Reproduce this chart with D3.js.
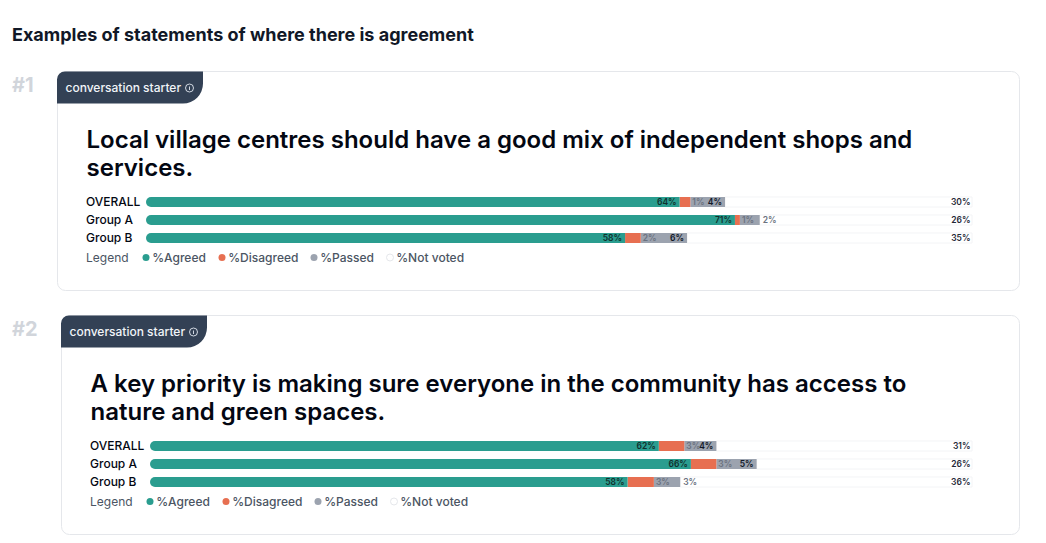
<!DOCTYPE html>
<html>

<head>
    <meta charset="UTF-8">
    <script src="https://cdnjs.cloudflare.com/ajax/libs/d3/7.8.5/d3.min.js"></script>
    <style>
        html, body { margin: 0; padding: 0; background: #fff; overflow: hidden; }
        text { font-family: Inter, "Noto Sans", sans-serif; }
    </style>
</head>

<body>
</body>
<script>
    var pageTitle = "Examples of statements of where there is agreement";
    var badgeText = "conversation starter";
    var groups = ["OVERALL", "Group A", "Group B"];
    var legendItems = ["%Agreed", "%Disagreed", "%Passed", "%Not voted"];
    var keys = ["agreed", "disagreed", "passed", "notVoted"];

    var statement1 = ["Local village centres should have a good mix of independent shops and", "services."];
    var agreed1 = [64.6, 71.3, 58.0];
    var disagreed1 = [1.3, 0.6, 1.9];
    var passed1 = [4.2, 2.4, 5.6];
    var notVoted1 = [29.9, 25.7, 34.5];
    var labels1 = [["64%", "1%", "4%", "30%"], ["71%", "1%", "2%", "26%"], ["58%", "2%", "6%", "35%"]];

    var statement2 = ["A key priority is making sure everyone in the community has access to", "nature and green spaces."];
    var agreed2 = [61.9, 65.8, 58.1];
    var disagreed2 = [3.1, 3.1, 3.2];
    var passed2 = [3.9, 4.9, 3.2];
    var notVoted2 = [31.1, 26.2, 35.5];
    var labels2 = [["62%", "3%", "4%", "31%"], ["66%", "3%", "5%", "26%"], ["58%", "3%", "3%", "36%"]];

    var color = d3.scaleOrdinal().domain(keys).range(["#2a9d8f", "#e76f51", "#9ca3af", "#ffffff"]);

    var svg = d3.select("body").append("svg")
        .attr("width", 1046)
        .attr("height", 543)
        .style("display", "block");

    svg.append("text")
        .attr("x", 12).attr("y", 40.5)
        .attr("font-size", 18).attr("font-weight", 700).attr("fill", "#111827")
        .text(pageTitle);

    function drawCard(num, left, top, lines, agreed, disagreed, passed, notVoted, labels) {
        var cardW = 1019.5 - left, cardH = 219;
        var rows = groups.map(function (g, i) {
            return { group: g, agreed: agreed[i], disagreed: disagreed[i], passed: passed[i], notVoted: notVoted[i], labels: labels[i] };
        });

        svg.append("text")
            .attr("x", 12).attr("y", top + 20.5)
            .attr("font-size", 20).attr("font-weight", 700).attr("fill", "#d1d5db")
            .text("#" + num);

        var g = svg.append("g").attr("transform", "translate(" + left + "," + top + ")");

        g.append("rect")
            .attr("width", cardW).attr("height", cardH).attr("rx", 8)
            .attr("fill", "#fff").attr("stroke", "#e5e7eb");

        // badge, rounded top-left and bottom-right
        g.append("path")
            .attr("d", "M-0.5,8a8,8 0 0 1 8,-8H145.5V12a20,20 0 0 1 -20,20H-0.5Z")
            .attr("fill", "#334155");
        g.append("text")
            .attr("x", 8).attr("y", 20.5)
            .attr("font-size", 12).attr("font-weight", 500).attr("fill", "#f1f5f9")
            .text(badgeText);
        var info = g.append("g").attr("transform", "translate(132,16.5)");
        info.append("circle").attr("r", 4).attr("fill", "none").attr("stroke", "#e2e8f0").attr("stroke-width", 0.9);
        info.append("line").attr("y1", -1.5).attr("y2", 2).attr("stroke", "#e2e8f0").attr("stroke-width", 0.9);

        g.selectAll(".statement").data(lines).enter().append("text")
            .attr("class", "statement")
            .attr("x", 29)
            .attr("y", function (d, i) { return 76 + 28 * i; })
            .attr("font-size", 24).attr("font-weight", 600).attr("fill", "#030712")
            .text(function (d) { return d; });

        var x = d3.scaleLinear().domain([0, 100]).range([88.5, 915 - (left - 57)]);
        var y = d3.scaleBand().domain(groups).range([121.5, 175.5]).paddingInner(0.444).paddingOuter(0.222);

        g.selectAll(".group").data(groups).enter().append("text")
            .attr("class", "group")
            .attr("x", 28.5)
            .attr("y", function (d) { return y(d) + y.bandwidth() / 2 - 0.5; })
            .attr("dy", "0.35em")
            .attr("font-size", 12).attr("font-weight", 500).attr("fill", "#030712")
            .text(function (d) { return d; });

        var stack = d3.stack().keys(keys)(rows);

        // not voted goes first so its outline sits under the coloured part
        g.selectAll(".layer").data(stack.slice().reverse()).enter().append("g")
            .attr("class", "layer")
            .each(function (layer) {
                d3.select(this).selectAll("path").data(layer).enter().append("path")
                    .attr("d", function (d) {
                        var x0 = x(d[0]), x1 = x(d[1]), y0 = y(d.data.group), h = y.bandwidth();
                        var p = d3.path();
                        if (layer.key === "agreed") {
                            p.moveTo(x1, y0);
                            p.lineTo(x0 + h / 2, y0);
                            p.arcTo(x0, y0, x0, y0 + h / 2, h / 2);
                            p.arcTo(x0, y0 + h, x0 + h / 2, y0 + h, h / 2);
                            p.lineTo(x1, y0 + h);
                        } else {
                            p.rect(x0, y0, x1 - x0, h);
                        }
                        p.closePath();
                        return p.toString();
                    })
                    .attr("fill", color(layer.key))
                    .attr("stroke", layer.key === "notVoted" ? "#f3f4f6" : "none")
                    .attr("stroke-width", 1);
            });

        // percentage labels
        rows.forEach(function (r) {
            var cy = y(r.group) + y.bandwidth() / 2;
            var a1 = x(r.agreed), d1 = x(r.agreed + r.disagreed), p1 = x(r.agreed + r.disagreed + r.passed);
            function lab(px, anchor, txt, fill) {
                g.append("text")
                    .attr("x", px).attr("y", cy).attr("dy", "0.35em")
                    .attr("text-anchor", anchor)
                    .attr("font-size", 8.5).attr("font-weight", 600).attr("fill", fill)
                    .text(txt);
            }
            lab(a1 - 3, "end", r.labels[0], "#10302c");
            lab(d1 + 2, "start", r.labels[1], "#6b7280");
            // the passed label only fits inside when the segment is wide enough
            if (p1 - d1 > 28) lab(p1 - 3, "end", r.labels[2], "#111827");
            else lab(p1 + 3, "start", r.labels[2], "#6b7280");
            lab(x(100) - 1.5, "end", r.labels[3], "#1f2937");
        });

        // legend
        var legendY = 186;
        g.append("text")
            .attr("x", 28.5).attr("y", legendY).attr("dy", "0.35em")
            .attr("font-size", 12).attr("fill", "#4b5563")
            .text("Legend");

        var legendX = d3.scaleOrdinal().domain(keys).range([88.5, 164.5, 256.5, 332.5]);
        var legend = g.selectAll(".legendItem").data(keys).enter().append("g")
            .attr("class", "legendItem")
            .attr("transform", function (d) { return "translate(" + legendX(d) + "," + legendY + ")"; });
        legend.append("circle")
            .attr("r", 3.5)
            .attr("fill", function (d) { return color(d); })
            .attr("stroke", function (d) { return d === "notVoted" ? "#e5e7eb" : "none"; });
        legend.append("text")
            .attr("x", 6.2).attr("dy", "0.35em")
            .attr("font-size", 12).attr("font-weight", 500).attr("fill", "#4b5563")
            .text(function (d, i) { return legendItems[i]; });
    }

    drawCard(1, 57.5, 71.5, statement1, agreed1, disagreed1, passed1, notVoted1, labels1);
    drawCard(2, 61.5, 315.5, statement2, agreed2, disagreed2, passed2, notVoted2, labels2);
</script>

</html>
